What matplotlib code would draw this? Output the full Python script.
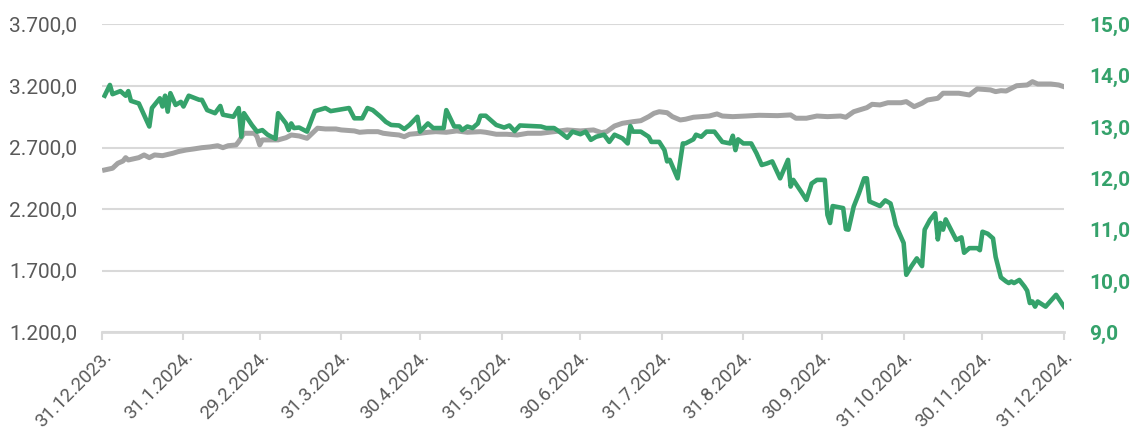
import numpy as np
import pandas as pd
import matplotlib
matplotlib.use('Agg')
import matplotlib.pyplot as plt
from matplotlib.ticker import FuncFormatter

plt.rcParams['font.family'] = ['Roboto', 'DejaVu Sans']

# dani od 31.12.2023. i vrijednosti (siva - lijeva os, zelena - desna os)
gray_days = [1, 4, 6, 8, 9, 10, 14, 16, 18, 20, 23, 27, 29, 32, 35, 38, 41, 44, 46, 48,
             51, 52, 54, 58, 59, 60, 61, 64, 67, 70, 72, 75, 78, 80, 82, 85, 89, 91, 96, 98,
             101, 105, 107, 110, 113, 115, 117, 121, 124, 127, 131, 135, 139, 144, 146, 150,
             154, 158, 162, 167, 172, 177, 182, 187, 190, 192, 195, 198, 202, 205, 208, 210,
             212, 215, 217, 220, 222, 225, 228, 231, 234, 236, 240, 245, 250, 257, 262, 264,
             268, 272, 276, 281, 283, 286, 291, 293, 296, 299, 304, 306, 309, 312, 314, 318,
             320, 326, 330, 333, 338, 340, 342, 344, 348, 352, 354, 356, 361, 364, 366]
gray_vals = [2518, 2532, 2572, 2591, 2618, 2599, 2618, 2640, 2618, 2640, 2634, 2654, 2667,
             2680, 2689, 2699, 2705, 2715, 2699, 2715, 2721, 2748, 2816, 2816, 2788, 2721,
             2762, 2762, 2762, 2780, 2802, 2794, 2775, 2816, 2857, 2851, 2851, 2843, 2835,
             2824, 2829, 2829, 2816, 2808, 2802, 2788, 2808, 2816, 2824, 2829, 2824, 2835,
             2824, 2829, 2824, 2808, 2808, 2802, 2816, 2816, 2829, 2843, 2835, 2843, 2821,
             2829, 2875, 2897, 2910, 2918, 2951, 2978, 2991, 2983, 2951, 2924, 2930, 2946,
             2951, 2956, 2973, 2956, 2951, 2956, 2962, 2959, 2965, 2938, 2938, 2956, 2951,
             2956, 2946, 2991, 3024, 3051, 3046, 3064, 3064, 3073, 3032, 3060, 3086, 3100,
             3141, 3141, 3127, 3176, 3168, 3154, 3162, 3159, 3202, 3208, 3235, 3216, 3216,
             3208, 3194]

green_days = [1, 3, 4, 7, 9, 10, 11, 14, 18, 19, 22, 23, 24, 25, 26, 28, 30, 31, 33, 37,
              38, 40, 43, 45, 46, 50, 52, 53, 54, 57, 59, 61, 63, 66, 67, 70, 71, 72, 73, 75,
              78, 81, 85, 87, 94, 96, 99, 101, 103, 106, 108, 110, 113, 115, 117, 120, 121,
              124, 126, 130, 131, 134, 136, 137, 139, 141, 143, 144, 146, 150, 153, 155, 157,
              159, 167, 169, 172, 174, 177, 179, 182, 184, 186, 188, 191, 193, 195, 198, 200,
              201, 202, 205, 208, 209, 212, 214, 215, 216, 219, 221, 222, 225, 226, 228, 230,
              233, 236, 239, 240, 241, 242, 244, 247, 249, 251, 253, 255, 258, 261, 262, 263,
              266, 268, 270, 272, 275, 276, 277, 278, 282, 283, 284, 286, 288, 290, 291, 292,
              296, 298, 300, 301, 302, 305, 306, 308, 310, 312, 313, 315, 317, 318, 319, 320,
              321, 323, 325, 327, 328, 330, 333, 334, 335, 337, 339, 340, 342, 344, 345, 346,
              347, 349, 351, 352, 353, 354, 355, 356, 359, 363, 366]
green_vals = [13.61, 13.82, 13.64, 13.70, 13.61, 13.70, 13.51, 13.46, 13.01, 13.37, 13.56,
              13.40, 13.61, 13.30, 13.66, 13.43, 13.49, 13.40, 13.61, 13.53, 13.53, 13.33,
              13.27, 13.41, 13.24, 13.20, 13.37, 12.81, 13.27, 13.04, 12.91, 12.94, 12.85,
              12.77, 13.27, 13.07, 12.94, 13.07, 12.98, 12.99, 12.91, 13.31, 13.37, 13.31,
              13.37, 13.17, 13.17, 13.37, 13.33, 13.20, 13.10, 13.04, 13.03, 12.96, 13.04,
              13.20, 12.91, 13.07, 12.98, 12.98, 13.33, 13.01, 13.01, 12.94, 13.01, 12.98,
              13.07, 13.22, 13.22, 13.04, 12.99, 13.03, 12.92, 13.03, 13.01, 12.98, 12.98,
              12.91, 12.79, 12.91, 12.86, 12.91, 12.75, 12.81, 12.85, 12.71, 12.85, 12.78,
              12.68, 13.02, 12.91, 12.91, 12.81, 12.71, 12.71, 12.55, 12.33, 12.36, 12.00,
              12.68, 12.68, 12.76, 12.85, 12.81, 12.91, 12.91, 12.71, 12.68, 12.83, 12.55,
              12.76, 12.68, 12.68, 12.49, 12.26, 12.29, 12.33, 12.00, 12.36, 11.84, 11.97,
              11.74, 11.58, 11.90, 11.97, 11.97, 11.29, 11.13, 11.46, 11.42, 11.01, 11.00,
              11.45, 11.71, 12.00, 12.00, 11.55, 11.46, 11.57, 11.51, 11.32, 11.09, 10.74,
              10.12, 10.29, 10.44, 10.29, 11.00, 11.19, 11.32, 10.81, 11.13, 11.00, 11.20,
              11.00, 10.80, 10.85, 10.55, 10.64, 10.64, 10.60, 10.96, 10.92, 10.83, 10.47,
              10.07, 9.99, 9.96, 9.99, 9.96, 10.02, 9.89, 9.81, 9.57, 9.60, 9.50, 9.60, 9.50,
              9.73, 9.50]

left_ticks = [1200, 1700, 2200, 2700, 3200, 3700]
right_ticks = [9, 10, 11, 12, 13, 14, 15]

start = pd.Timestamp('2023-12-31')
end = pd.Timestamp('2024-12-31')
gray_dates = start + pd.to_timedelta(gray_days, unit='D')
green_dates = start + pd.to_timedelta(green_days, unit='D')

month_ends = pd.date_range(start, end, freq='ME')
month_labels = [f"{d.day}.{d.month}.{d.year}." for d in month_ends]

GRAY = '#a3a3a3'
GREEN = '#35a26b'
TXT = '#595959'
GRID = '#d9d9d9'

fig = plt.figure(figsize=(11.36, 4.41), dpi=100)
ax = fig.add_axes([0.0898, 0.2465, 0.8468, 0.6982])
ax2 = ax.twinx()

ax.plot(gray_dates, gray_vals, color=GRAY, linewidth=3.6, solid_joinstyle='round')
ax2.plot(green_dates, green_vals, color=GREEN, linewidth=3.3, solid_joinstyle='round')

ax.set_xlim(start, end)
ax.set_ylim(1200, 3700)
ax2.set_ylim(9, 15)
ax.set_yticks(left_ticks)
ax2.set_yticks(right_ticks)

ax.yaxis.set_major_formatter(FuncFormatter(
    lambda v, p: f"{v:,.1f}".replace(',', 'X').replace('.', ',').replace('X', '.')))
ax2.yaxis.set_major_formatter(FuncFormatter(lambda v, p: f"{v:.1f}".replace('.', ',')))

ax.grid(axis='y', color=GRID, linewidth=1.5)
ax.set_axisbelow(True)

for a in (ax, ax2):
    for s in ('top', 'left', 'right', 'bottom'):
        a.spines[s].set_visible(False)
ax.spines['bottom'].set_visible(True)
ax.spines['bottom'].set_color(GRID)
ax.spines['bottom'].set_linewidth(2)

ax.set_xticks(month_ends)
ax.set_xticklabels(month_labels, rotation=45, ha='right', va='top', rotation_mode='anchor')
ax.tick_params(axis='x', length=6, width=1.5, color=GRID, labelsize=13.5, labelcolor=TXT, pad=5)
ax.tick_params(axis='y', length=0, labelsize=15, labelcolor=TXT, pad=18)
ax2.tick_params(axis='y', length=0, labelsize=15, labelcolor=GREEN, pad=18)
for lbl in ax2.get_yticklabels():
    lbl.set_fontweight('bold')

fig.savefig('out.png', dpi=100)
